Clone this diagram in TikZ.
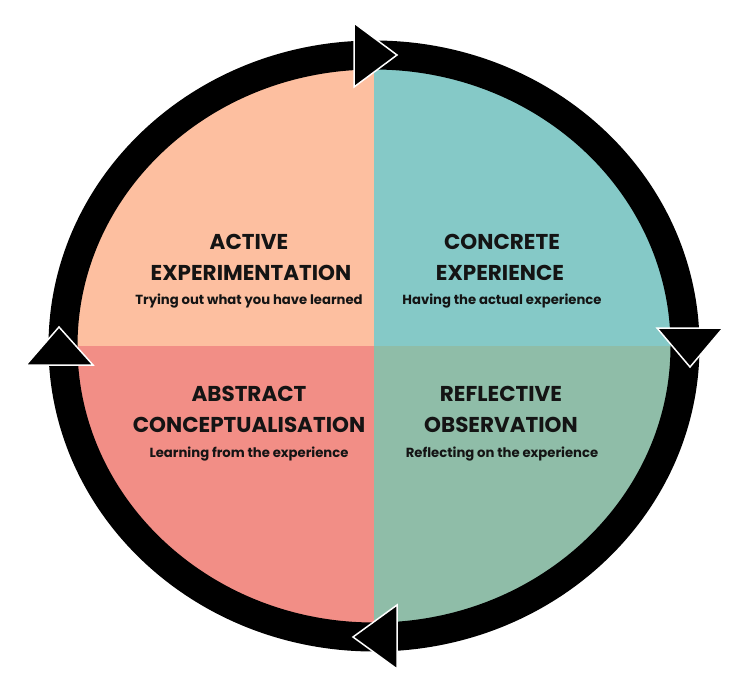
\documentclass[tikz,border=0pt]{standalone}
\usepackage{fontspec}
\setmainfont{Poppins}
\definecolor{peach}{HTML}{FDBFA0}
\definecolor{tealq}{HTML}{85C9C7}
\definecolor{salmon}{HTML}{F28E86}
\definecolor{sage}{HTML}{8FBDA8}
\tikzset{
  head/.style={font=\fontsize{21.5}{24}\selectfont\bfseries, align=center, inner sep=0pt, text=black!92},
  sub/.style={font=\fontsize{13.2}{15}\selectfont\bfseries, inner sep=0pt, text=black!92},
  arrhead/.style={fill=black, draw=white, line width=1.5pt, line join=miter}
}
\begin{document}
\begin{tikzpicture}[x=1pt,y=-1pt]
\useasboundingbox (0,0) rectangle (750,682);
\coordinate (c) at (374,346);
% quadrants
\begin{scope}
  \clip (c) ellipse [x radius=300, y radius=281];
  \fill[peach] (c) rectangle (60,50);
  \fill[tealq] (c) rectangle (700,50);
  \fill[salmon] (c) rectangle (60,650);
  \fill[sage] (c) rectangle (700,650);
\end{scope}
% ring
\draw[line width=29pt] (c) ellipse [x radius=311, y radius=291];
% arrowheads
\path[arrhead] (354,23) -- (354,87) -- (397,55) -- cycle;
\path[arrhead] (657,328) -- (723,328) -- (690,367) -- cycle;
\path[arrhead] (397,605) -- (397,669) -- (353,637) -- cycle;
\path[arrhead] (26,365) -- (93,365) -- (59,327) -- cycle;
% texts
\node[head] (ae1) at (249,242) {ACTIVE};
\node[head] (ae2) at (251,273) {EXPERIMENTATION};
\node[sub] (ae3) at (249,301) {Trying out what you have learned};
\node[head] (ce1) at (502,242) {CONCRETE};
\node[head] (ce2) at (500,273) {EXPERIENCE};
\node[sub] (ce3) at (502,301) {Having the actual experience};
\node[head] (ac1) at (249,394) {ABSTRACT};
\node[head] (ac2) at (249,425) {CONCEPTUALISATION};
\node[sub] (ac3) at (249,454) {Learning from the experience};
\node[head] (ro1) at (501,394) {REFLECTIVE};
\node[head] (ro2) at (501,425) {OBSERVATION};
\node[sub] (ro3) at (502,454) {Reflecting on the experience};
\end{tikzpicture}
\end{document}
